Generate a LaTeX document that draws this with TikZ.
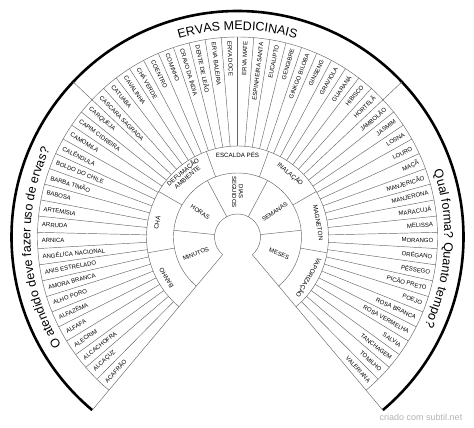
\documentclass[tikz,border=0pt]{standalone}
\usepackage{fontspec}
\setmainfont{Liberation Sans}
\usetikzlibrary{decorations.text}

\tikzstyle{hairline} = [draw=black!60, line width=0.45pt]
\tikzstyle{rim} = [draw=black, line width=2.6pt]
\tikzstyle{herb} = [inner sep=0pt, font=\fontsize{6}{7}\selectfont]
\tikzstyle{method} = [inner sep=0pt, align=center, font=\fontsize{6.2}{6.8}\selectfont]
\tikzstyle{period} = [inner sep=0pt, align=center, font=\fontsize{6}{6.8}\selectfont]
\tikzstyle{credit} = [inner sep=0pt, text=black!30, font=\fontsize{9}{10}\selectfont]
\tikzstyle{arctext} = [decorate, decoration={text along path, text align=center}]

\begin{document}
\begin{tikzpicture}
\useasboundingbox (-237.5pt,-191pt) rectangle (236.5pt,237pt);

% rings of the fan
\foreach \r in {23,64,91,200}
  \draw [hairline] (230:\r pt) arc[start angle=230, end angle=-50, radius=\r pt];
\draw [rim] (230:226pt) arc[start angle=230, end angle=-50, radius=226pt];

% edges of the fan
\draw [hairline] (230:23pt) -- (230:226pt);
\draw [hairline] (-50:23pt) -- (-50:226pt);

% dividers
\foreach \a in {136.67,43.33}
  \draw [hairline] (\a:200pt) -- (\a:226pt);
\foreach \k in {1,...,4}
  \draw [hairline] ({230-56*\k}:23pt) -- ({230-56*\k}:64pt);
\foreach \k in {1,...,6}
  \draw [hairline] ({230-40*\k}:64pt) -- ({230-40*\k}:91pt);
\foreach \k in {1,...,59}
  \draw [hairline] ({230-280/60*\k}:91pt) -- ({230-280/60*\k}:200pt);

% how long
\foreach \txt [count=\i] in {MINUTOS, HORAS, {DIAS\\SEGUIDOS}, SEMANAS, MESES} {
  \pgfmathsetmacro\a{230-56*(\i-0.5)}
  \pgfmathsetmacro\rot{\a>=90 ? \a+180 : \a}
  \node (period\i) [period, rotate=\rot] at (\a:45pt) {\txt};
}

% how to use
\foreach \txt [count=\i] in {BANHO, CHÁ, {DEFUMAÇÃO\\AMBIENTE}, ESCALDA PÉS, INALAÇÃO, MAGNETON, VAPORIZAÇÃO} {
  \pgfmathsetmacro\a{230-40*(\i-0.5)}
  \node (method\i) [method, rotate=\a-90] at (\a:82pt) {\txt};
}

% herbs
\foreach \txt [count=\i] in {ACAFRÃO, ALCAÇUZ, ALCACHOFRA, ALECRIM, ALFAFA, ALFAZEMA, ALHO PORO,
    AMORA BRANCA, ANIS ESTRELADO, ANGÉLICA NACIONAL, ARNICA, ARRUDA, ARTEMÍSIA, BABOSA,
    BARBA TIMÃO, BOLDO DO CHILE, CALÊNDULA, CAMOMILA, CAPIM CIDREIRA, CARQUEJA,
    CASCARA SAGRADA, CATUABA, CAVALINHA, CHÁ VERDE, COENTRO, COMINHO, CRAVO DA ÍNDIA,
    DENTE DE LEÃO, ERVA BALEIRA, ERVA DOCE, ERVA MATE, ESPINHEIRA SANTA, EUCALIPTO,
    GENGIBRE, GINKGO BILOBA, GINSENG, GRAVIOLA, GUARANÁ, HIBISCO, HORTELÃ, JAMBOLÃO,
    JASMIM, LOSNA, LOURO, MAÇÃ, MANJERICÃO, MANJERONA, MARACUJÁ, MELISSA, MORANGO,
    ORÉGANO, PÊSSEGO, PICÃO PRETO, POEJO, ROSA BRANCA, ROSA VERMELHA, SALVIA,
    TANCHAGEM, TOMILHO, VALERIANA} {
  \pgfmathsetmacro\a{230-280/60*(\i-0.5)}
  \pgfmathtruncatemacro\lft{\a>=90}
  \ifnum\lft=1
    \node (herb\i) [herb, rotate=\a+180, anchor=west] at (\a:196pt) {\txt};
  \else
    \node (herb\i) [herb, rotate=\a, anchor=east] at (\a:196pt) {\txt};
  \fi
}

% questions round the rim
\path [arctext, decoration={text={|\fontsize{12.5pt}{15pt}\selectfont|ERVAS MEDICINAIS}}]
  (136.67:207pt) arc[start angle=136.67, end angle=43.33, radius=207pt];
\path [arctext, decoration={text={|\fontsize{12.5pt}{15pt}\selectfont|O atendido deve fazer uso de ervas?}}]
  (230:207pt) arc[start angle=230, end angle=136.67, radius=207pt];
\path [arctext, decoration={text={|\fontsize{12.5pt}{15pt}\selectfont|Qual forma? Quanto tempo?}}]
  (43.33:207pt) arc[start angle=43.33, end angle=-50, radius=207pt];

\node (credit) [credit] at (183.5pt,-180pt) {criado com subtil.net};

\end{tikzpicture}
\end{document}
